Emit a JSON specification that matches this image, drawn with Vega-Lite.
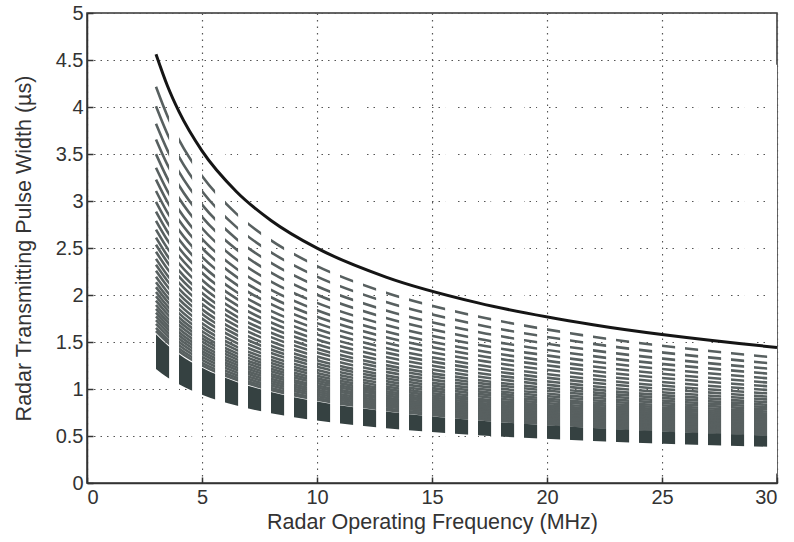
{
  "$schema": "https://vega.github.io/schema/vega-lite/v6.json",
  "width": 690,
  "height": 470,
  "autosize": {"type": "none"},
  "padding": {"left": 87, "top": 13, "right": 17, "bottom": 59},
  "background": "white",
  "config": {
    "view": {"stroke": "#333333", "strokeWidth": 1.5},
    "font": "Liberation Sans",
    "axis": {
      "zindex": 1,
      "labelFont": "Liberation Sans",
      "labelFontSize": 20,
      "labelColor": "#333333",
      "titleFont": "Liberation Sans",
      "titleFontSize": 21.5,
      "titleFontWeight": "normal",
      "titleColor": "#333333",
      "domainColor": "#333333",
      "domainWidth": 1.5,
      "ticks": true,
      "tickColor": "#333333",
      "tickSize": -6,
      "tickWidth": 1.5,
      "labelPadding": 10,
      "grid": true,
      "gridColor": "#555555",
      "gridDash": [1.5, 5],
      "gridWidth": 1.2
    }
  },
  "datasets": {
    "curves": [
      {"f": 3, "S": 4.561, "L01": 4.215, "L02": 4.007, "L03": 3.822, "L04": 3.655, "L05": 3.499, "L06": 3.354, "L07": 3.227, "L08": 3.106, "L09": 2.991, "L10": 2.887, "L11": 2.789, "L12": 2.696, "L13": 2.610, "L14": 2.535, "L15": 2.460, "L16": 2.384, "L17": 2.321, "L18": 2.257, "L19": 2.194, "L20": 2.136, "L21": 2.084, "L22": 2.032, "L23": 1.986, "L24": 1.940, "L25": 1.894, "L26": 1.853, "L27": 1.813, "L28": 1.772, "L29": 1.732, "L30": 1.692, "L31": 1.651, "L32": 1.617, "AT": 1.582, "AB": 1.212},
      {"f": 3.5, "S": 4.223, "L01": 3.902, "L02": 3.710, "L03": 3.539, "L04": 3.384, "L05": 3.239, "L06": 3.106, "L07": 2.988, "L08": 2.876, "L09": 2.769, "L10": 2.673, "L11": 2.582, "L12": 2.496, "L13": 2.416, "L14": 2.347, "L15": 2.277, "L16": 2.208, "L17": 2.149, "L18": 2.090, "L19": 2.031, "L20": 1.978, "L21": 1.930, "L22": 1.882, "L23": 1.839, "L24": 1.796, "L25": 1.753, "L26": 1.716, "L27": 1.678, "L28": 1.641, "L29": 1.604, "L30": 1.566, "L31": 1.529, "L32": 1.497, "AT": 1.465, "AB": 1.122},
      {"f": 4, "S": 3.950, "L01": 3.650, "L02": 3.470, "L03": 3.310, "L04": 3.165, "L05": 3.030, "L06": 2.905, "L07": 2.795, "L08": 2.690, "L09": 2.590, "L10": 2.500, "L11": 2.415, "L12": 2.335, "L13": 2.260, "L14": 2.195, "L15": 2.130, "L16": 2.065, "L17": 2.010, "L18": 1.955, "L19": 1.900, "L20": 1.850, "L21": 1.805, "L22": 1.760, "L23": 1.720, "L24": 1.680, "L25": 1.640, "L26": 1.605, "L27": 1.570, "L28": 1.535, "L29": 1.500, "L30": 1.465, "L31": 1.430, "L32": 1.400, "AT": 1.370, "AB": 1.050},
      {"f": 5, "S": 3.533, "L01": 3.265, "L02": 3.104, "L03": 2.961, "L04": 2.831, "L05": 2.710, "L06": 2.598, "L07": 2.500, "L08": 2.406, "L09": 2.317, "L10": 2.236, "L11": 2.160, "L12": 2.088, "L13": 2.021, "L14": 1.963, "L15": 1.905, "L16": 1.847, "L17": 1.798, "L18": 1.749, "L19": 1.699, "L20": 1.655, "L21": 1.614, "L22": 1.574, "L23": 1.538, "L24": 1.503, "L25": 1.467, "L26": 1.436, "L27": 1.404, "L28": 1.373, "L29": 1.342, "L30": 1.310, "L31": 1.279, "L32": 1.252, "AT": 1.225, "AB": 0.939},
      {"f": 6.5, "S": 3.099, "L01": 2.863, "L02": 2.722, "L03": 2.597, "L04": 2.483, "L05": 2.377, "L06": 2.279, "L07": 2.193, "L08": 2.110, "L09": 2.032, "L10": 1.961, "L11": 1.894, "L12": 1.832, "L13": 1.773, "L14": 1.722, "L15": 1.671, "L16": 1.620, "L17": 1.577, "L18": 1.534, "L19": 1.490, "L20": 1.451, "L21": 1.416, "L22": 1.381, "L23": 1.349, "L24": 1.318, "L25": 1.287, "L26": 1.259, "L27": 1.232, "L28": 1.204, "L29": 1.177, "L30": 1.149, "L31": 1.122, "L32": 1.098, "AT": 1.075, "AB": 0.824},
      {"f": 8, "S": 2.793, "L01": 2.581, "L02": 2.454, "L03": 2.341, "L04": 2.238, "L05": 2.143, "L06": 2.054, "L07": 1.976, "L08": 1.902, "L09": 1.831, "L10": 1.768, "L11": 1.708, "L12": 1.651, "L13": 1.598, "L14": 1.552, "L15": 1.506, "L16": 1.460, "L17": 1.421, "L18": 1.382, "L19": 1.343, "L20": 1.308, "L21": 1.276, "L22": 1.245, "L23": 1.216, "L24": 1.188, "L25": 1.160, "L26": 1.135, "L27": 1.110, "L28": 1.085, "L29": 1.061, "L30": 1.036, "L31": 1.011, "L32": 0.990, "AT": 0.969, "AB": 0.742},
      {"f": 10, "S": 2.498, "L01": 2.308, "L02": 2.195, "L03": 2.093, "L04": 2.002, "L05": 1.916, "L06": 1.837, "L07": 1.768, "L08": 1.701, "L09": 1.638, "L10": 1.581, "L11": 1.527, "L12": 1.477, "L13": 1.429, "L14": 1.388, "L15": 1.347, "L16": 1.306, "L17": 1.271, "L18": 1.236, "L19": 1.202, "L20": 1.170, "L21": 1.142, "L22": 1.113, "L23": 1.088, "L24": 1.063, "L25": 1.037, "L26": 1.015, "L27": 0.993, "L28": 0.971, "L29": 0.949, "L30": 0.927, "L31": 0.904, "L32": 0.885, "AT": 0.866, "AB": 0.664},
      {"f": 13, "S": 2.191, "L01": 2.025, "L02": 1.925, "L03": 1.836, "L04": 1.756, "L05": 1.681, "L06": 1.611, "L07": 1.550, "L08": 1.492, "L09": 1.437, "L10": 1.387, "L11": 1.340, "L12": 1.295, "L13": 1.254, "L14": 1.218, "L15": 1.182, "L16": 1.145, "L17": 1.115, "L18": 1.084, "L19": 1.054, "L20": 1.026, "L21": 1.001, "L22": 0.976, "L23": 0.954, "L24": 0.932, "L25": 0.910, "L26": 0.890, "L27": 0.871, "L28": 0.851, "L29": 0.832, "L30": 0.813, "L31": 0.793, "L32": 0.777, "AT": 0.760, "AB": 0.582},
      {"f": 17, "S": 1.916, "L01": 1.771, "L02": 1.683, "L03": 1.606, "L04": 1.535, "L05": 1.470, "L06": 1.409, "L07": 1.356, "L08": 1.305, "L09": 1.256, "L10": 1.213, "L11": 1.171, "L12": 1.133, "L13": 1.096, "L14": 1.065, "L15": 1.033, "L16": 1.002, "L17": 0.975, "L18": 0.948, "L19": 0.922, "L20": 0.897, "L21": 0.876, "L22": 0.854, "L23": 0.834, "L24": 0.815, "L25": 0.796, "L26": 0.779, "L27": 0.762, "L28": 0.745, "L29": 0.728, "L30": 0.711, "L31": 0.694, "L32": 0.679, "AT": 0.665, "AB": 0.509},
      {"f": 22, "S": 1.684, "L01": 1.556, "L02": 1.480, "L03": 1.411, "L04": 1.350, "L05": 1.292, "L06": 1.239, "L07": 1.192, "L08": 1.147, "L09": 1.104, "L10": 1.066, "L11": 1.030, "L12": 0.996, "L13": 0.964, "L14": 0.936, "L15": 0.908, "L16": 0.881, "L17": 0.857, "L18": 0.834, "L19": 0.810, "L20": 0.789, "L21": 0.770, "L22": 0.750, "L23": 0.733, "L24": 0.716, "L25": 0.699, "L26": 0.684, "L27": 0.669, "L28": 0.655, "L29": 0.640, "L30": 0.625, "L31": 0.610, "L32": 0.597, "AT": 0.584, "AB": 0.448},
      {"f": 30, "S": 1.442, "L01": 1.333, "L02": 1.267, "L03": 1.209, "L04": 1.156, "L05": 1.106, "L06": 1.061, "L07": 1.021, "L08": 0.982, "L09": 0.946, "L10": 0.913, "L11": 0.882, "L12": 0.853, "L13": 0.825, "L14": 0.801, "L15": 0.778, "L16": 0.754, "L17": 0.734, "L18": 0.714, "L19": 0.694, "L20": 0.676, "L21": 0.659, "L22": 0.643, "L23": 0.628, "L24": 0.613, "L25": 0.599, "L26": 0.586, "L27": 0.573, "L28": 0.560, "L29": 0.548, "L30": 0.535, "L31": 0.522, "L32": 0.511, "AT": 0.500, "AB": 0.383}
    ],
    "gaps": [
      {"g0": 3.57, "g1": 4}, {"g0": 4.57, "g1": 5}, {"g0": 5.57, "g1": 6}, {"g0": 6.57, "g1": 7},
      {"g0": 7.57, "g1": 8}, {"g0": 8.57, "g1": 9}, {"g0": 9.57, "g1": 10}, {"g0": 10.57, "g1": 11},
      {"g0": 11.57, "g1": 12}, {"g0": 12.57, "g1": 13}, {"g0": 13.57, "g1": 14}, {"g0": 14.57, "g1": 15},
      {"g0": 15.57, "g1": 16}, {"g0": 16.57, "g1": 17}, {"g0": 17.57, "g1": 18}, {"g0": 18.57, "g1": 19},
      {"g0": 19.57, "g1": 20}, {"g0": 20.57, "g1": 21}, {"g0": 21.57, "g1": 22}, {"g0": 22.57, "g1": 23},
      {"g0": 23.57, "g1": 24}, {"g0": 24.57, "g1": 25}, {"g0": 25.57, "g1": 26}, {"g0": 26.57, "g1": 27},
      {"g0": 27.57, "g1": 28}, {"g0": 28.57, "g1": 29}, {"g0": 29.57, "g1": 30}
    ]
  },
  "encoding": {
    "x": {
      "type": "quantitative",
      "scale": {"domain": [0, 30], "nice": false, "zero": false},
      "axis": {"title": "Radar Operating Frequency (MHz)", "values": [0, 5, 10, 15, 20, 25, 30], "titlePadding": 4}
    }
  },
  "layer": [
    {
      "data": {"name": "curves"},
      "transform": [
        {"fold": ["L01", "L02", "L03", "L04", "L05", "L06", "L07", "L08", "L09", "L10", "L11", "L12", "L13", "L14", "L15", "L16", "L17", "L18", "L19", "L20", "L21", "L22", "L23", "L24", "L25", "L26", "L27", "L28", "L29", "L30", "L31", "L32"], "as": ["level", "tau"]}
      ],
      "mark": {"type": "line", "color": "#586060", "strokeWidth": 2.6, "interpolate": "monotone", "strokeCap": "butt"},
      "encoding": {
        "x": {"field": "f", "type": "quantitative"},
        "y": {
          "field": "tau", "type": "quantitative",
          "scale": {"domain": [0, 5], "nice": false},
          "axis": {"title": "Radar Transmitting Pulse Width (µs)", "values": [0, 0.5, 1, 1.5, 2, 2.5, 3, 3.5, 4, 4.5, 5], "format": "~g", "titlePadding": 20}
        },
        "detail": {"field": "level", "type": "nominal"}
      }
    },
    {
      "data": {"name": "curves"},
      "mark": {"type": "area", "color": "#354141", "interpolate": "monotone"},
      "encoding": {
        "x": {"field": "f", "type": "quantitative"},
        "y": {"field": "AT", "type": "quantitative"},
        "y2": {"field": "AB"}
      }
    },
    {
      "data": {"name": "gaps"},
      "mark": {"type": "rect", "color": "white"},
      "encoding": {
        "x": {"field": "g0", "type": "quantitative"},
        "x2": {"field": "g1"},
        "y": {"datum": 0.1},
        "y2": {"datum": 4.45}
      }
    },
    {
      "data": {"name": "curves"},
      "mark": {"type": "line", "color": "#151515", "strokeWidth": 3, "interpolate": "monotone"},
      "encoding": {
        "x": {"field": "f", "type": "quantitative"},
        "y": {"field": "S", "type": "quantitative"}
      }
    }
  ]
}
